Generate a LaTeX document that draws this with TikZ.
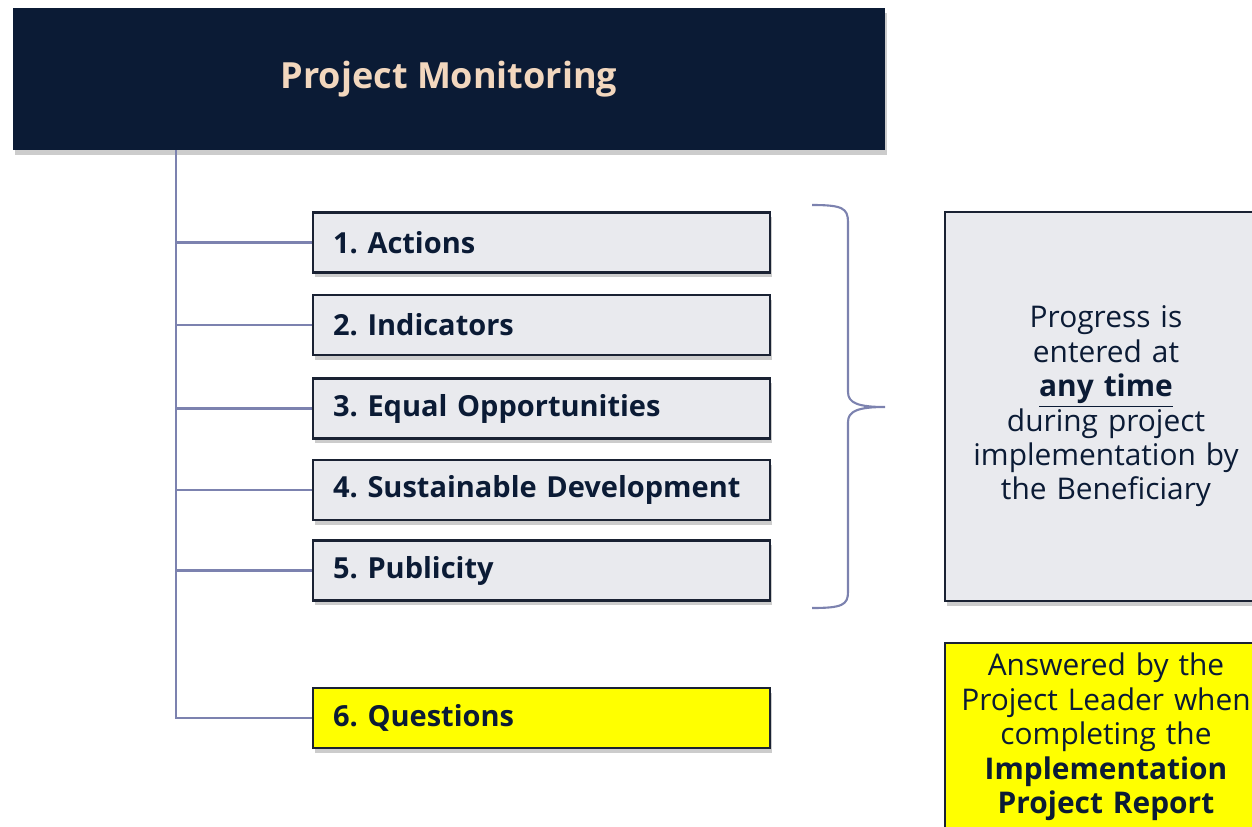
\documentclass[tikz,border=0pt]{standalone}
\usepackage{fontspec}
\setmainfont{Open Sans}
\frenchspacing
\usetikzlibrary{positioning, shadows}
\definecolor{pmnavy}{HTML}{0B1B35}
\definecolor{pmbeige}{HTML}{F2D7BE}
\definecolor{pmgrey}{HTML}{E9EAEE}
\definecolor{pmedge}{HTML}{1A2233}
\definecolor{pmline}{HTML}{7C82AF}
\definecolor{pmyellow}{HTML}{FFFF00}

\begin{document}
\begin{tikzpicture}[x=0.02cm, y=-0.02cm,
    boxshadow/.style={drop shadow={shadow xshift=1.2pt, shadow yshift=-2.6pt, opacity=0.4}},
    itembox/.style={draw=pmedge, line width=1.5pt, fill=pmgrey, boxshadow,
      minimum height=1.2cm, text width=8.34cm, inner xsep=0.4cm, align=left,
      text=pmnavy, font=\fontsize{16.5}{19}\selectfont\bfseries},
    notebox/.style={draw=pmedge, line width=1.5pt, fill=pmgrey, boxshadow,
      minimum width=6.44cm, text width=6.2cm, align=center,
      text=pmnavy, font=\fontsize{17}{19.6}\selectfont},
    tree/.style={draw=pmline, line width=1.2pt}
  ]
  \useasboundingbox (0,0) rectangle (1252,826);
  \clip (0,0) rectangle (1252,826);

  % title
  \node[fill=pmnavy, boxshadow, minimum width=17.44cm, minimum height=2.84cm,
    text=pmbeige, font=\fontsize{20.5}{24}\selectfont\bfseries] (title) at (449,79) {Project Monitoring};

  % monitoring sections
  \node[itembox] (actions) at (541.5,242.5) {1. Actions};
  \node[itembox] (indic) at (541.5,325) {2. Indicators};
  \node[itembox] (equal) at (541.5,408.5) {3. Equal Opportunities};
  \node[itembox] (sustain) at (541.5,490) {4. Sustainable Development};
  \node[itembox] (public) at (541.5,570.5) {5. Publicity};
  \node[itembox, fill=pmyellow] (quest) at (541.5,718) {6. Questions};

  % notes on the right
  \node[notebox, minimum height=7.78cm] (progress) at (1106,406.5) {Progress is\\entered at\\
    \textbf{\underline{any time}}\\during project\\implementation by\\the Beneficiary};
  \node[notebox, fill=pmyellow, minimum height=3.76cm] (answer) at (1106,737) {Answered by the\\
    Project Leader when\\completing the\\\textbf{Implementation}\\\textbf{Project Report}};

  % tree
  \coordinate (trunk) at (176,150);
  \draw[tree] (trunk) |- (quest.west);
  \draw[tree] (trunk |- actions.west) -- (actions.west);
  \draw[tree] (trunk |- indic.west) -- (indic.west);
  \draw[tree] (trunk |- equal.west) -- (equal.west);
  \draw[tree] (trunk |- sustain.west) -- (sustain.west);
  \draw[tree] (trunk |- public.west) -- (public.west);

  % brace over items 1-5
  \coordinate (btop) at (812,205);
  \coordinate (btip) at (885,407);
  \coordinate (bbot) at (812,608);
  \draw[tree] (btop) .. controls (842,205) and (848,208) .. (848,222) -- (848,392)
    .. controls (848,403) and (858,407) .. (btip)
    .. controls (858,407) and (848,411) .. (848,422) -- (848,592)
    .. controls (848,605) and (842,608) .. (bbot);
\end{tikzpicture}
\end{document}
